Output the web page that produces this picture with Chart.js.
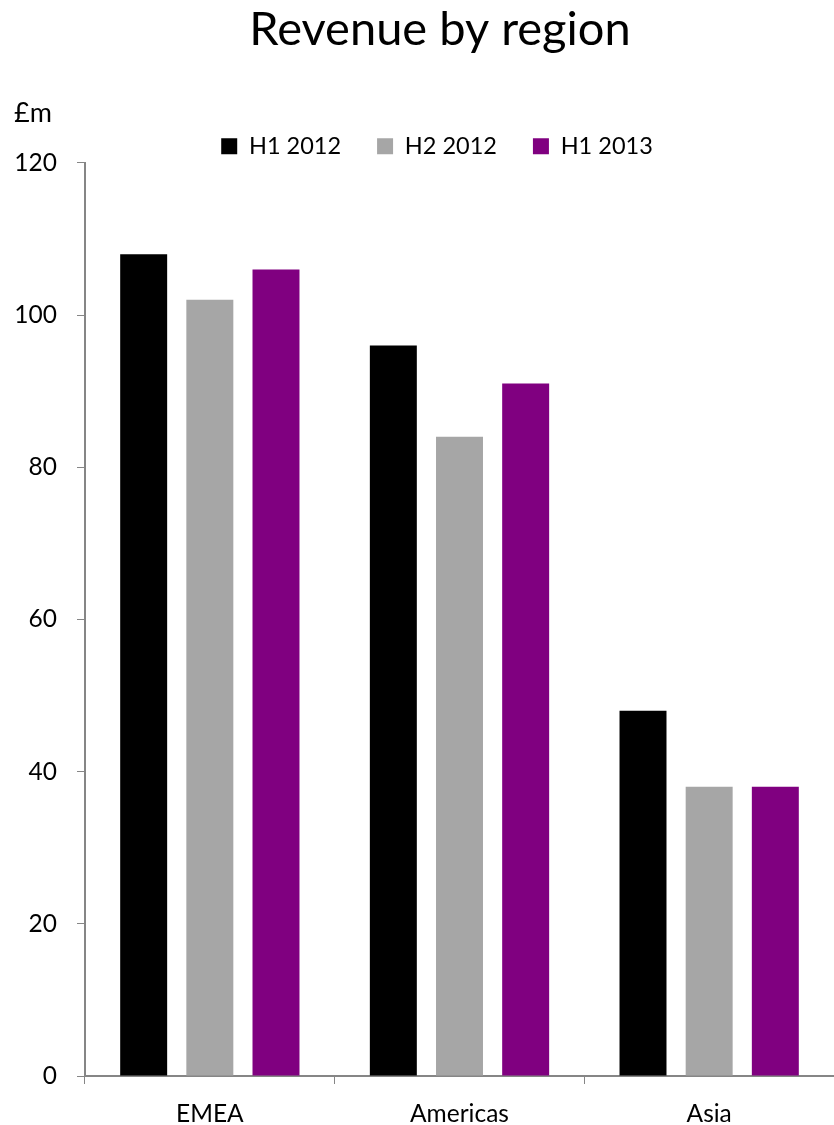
<!DOCTYPE html>
<html>
<head>
<meta charset="utf-8">
<script src="https://cdn.jsdelivr.net/npm/chart.js@4/dist/chart.umd.min.js"></script>
<style>
  html, body { margin: 0; padding: 0; background: #ffffff; }
  #wrap { width: 834px; height: 1125px; }
</style>
</head>
<body>
<div id="wrap"><canvas id="chart"></canvas></div>
<script>
const regions = ['EMEA', 'Americas', 'Asia'];
const seriesNames = ['H1 2012', 'H2 2012', 'H1 2013'];
const h1_2012 = [108, 96, 48];
const h2_2012 = [102, 84, 38];
const h1_2013 = [106, 91, 38];
const seriesColors = ['#000000', '#a6a6a6', '#800080'];
const yTickStep = 20;
const yMax = 120;

const FONT = 'Lato, "Open Sans", sans-serif';
const AXIS_GREY = '#868686';

// unit caption above the value axis
const unitLabel = {
  id: 'unitLabel',
  afterDraw(chart) {
    const ctx = chart.ctx;
    ctx.save();
    ctx.font = '27px ' + FONT;
    ctx.fillStyle = '#000';
    ctx.textAlign = 'left';
    ctx.textBaseline = 'middle';
    ctx.fillText('£m', 14, 113);
    ctx.restore();
  }
};

// centre title and legend over the plot plus the unit gutter, not the whole canvas
const headerShift = {
  id: 'headerShift',
  afterLayout(chart) {
    const gutter = 46;
    if (chart.titleBlock) { chart.titleBlock.left = gutter; }
    if (chart.legend) { chart.legend.left = gutter - 6; chart.legend.top += 5; }
  }
};

new Chart(document.getElementById('chart'), {
  type: 'bar',
  data: {
    labels: regions,
    datasets: [h1_2012, h2_2012, h1_2013].map((vals, i) => ({
      label: seriesNames[i],
      data: vals,
      backgroundColor: seriesColors[i],
      borderWidth: 0,
      categoryPercentage: 0.795,
      barPercentage: 0.71
    }))
  },
  options: {
    responsive: true,
    maintainAspectRatio: false,
    animation: false,
    layout: { padding: { left: 0, right: 0, top: 0, bottom: 0 } },
    plugins: {
      title: {
        display: true,
        text: 'Revenue by region',
        color: '#000',
        font: { family: FONT, size: 47, weight: 'normal' },
        padding: { top: 2, bottom: 35 }
      },
      legend: {
        display: true,
        position: 'top',
        labels: {
          color: '#000',
          font: { family: FONT, size: 23.5 },
          boxWidth: 16,
          boxHeight: 16,
          padding: 36
        }
      },
      tooltip: { enabled: false }
    },
    scales: {
      x: {
        grid: {
          display: true,
          drawOnChartArea: false,
          offset: true,
          color: AXIS_GREY,
          tickLength: 8
        },
        border: { display: true, color: AXIS_GREY, width: 2 },
        ticks: { color: '#000', font: { family: FONT, size: 24.5 }, padding: 15 },
        afterFit(scale) { scale.height = 49; }
      },
      y: {
        min: 0,
        max: yMax,
        ticks: { stepSize: yTickStep, color: '#000', font: { family: FONT, size: 24.5 }, padding: 20 },
        grid: {
          display: true,
          drawOnChartArea: false,
          color: AXIS_GREY,
          tickLength: 8
        },
        border: { display: true, color: AXIS_GREY, width: 2 },
        afterFit(scale) { scale.width = 85; }
      }
    }
  },
  plugins: [headerShift, unitLabel]
});
</script>
</body>
</html>
